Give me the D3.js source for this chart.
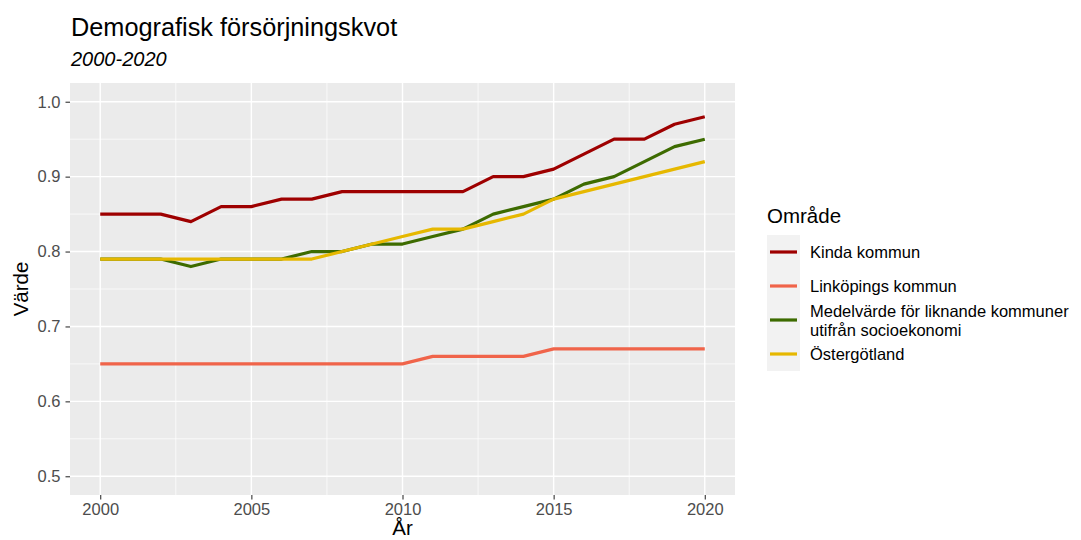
<!DOCTYPE html>
<html>
<head>
<meta charset="utf-8">
<script src="https://cdn.jsdelivr.net/npm/d3@7"></script>
<style>
  body { margin: 0; background: #fff; }
  text { font-family: "Liberation Sans", Arial, sans-serif; }
</style>
</head>
<body>
<div id="chart"></div>
<script>
var years = d3.range(2000, 2021);
var areas = ["Kinda kommun", "Linköpings kommun", "Medelvärde för liknande kommuner\nutifrån socioekonomi", "Östergötland"];
var colors = ["#9e0000", "#f0644a", "#3d6b00", "#e6b800"];
var kinda = [0.85,0.85,0.85,0.84,0.86,0.86,0.87,0.87,0.88,0.88,0.88,0.88,0.88,0.90,0.90,0.91,0.93,0.95,0.95,0.97,0.98];
var linkoping = [0.65,0.65,0.65,0.65,0.65,0.65,0.65,0.65,0.65,0.65,0.65,0.66,0.66,0.66,0.66,0.67,0.67,0.67,0.67,0.67,0.67];
var medel = [0.79,0.79,0.79,0.78,0.79,0.79,0.79,0.80,0.80,0.81,0.81,0.82,0.83,0.85,0.86,0.87,0.89,0.90,0.92,0.94,0.95];
var ostergotland = [0.79,0.79,0.79,0.79,0.79,0.79,0.79,0.79,0.80,0.81,0.82,0.83,0.83,0.84,0.85,0.87,0.88,0.89,0.90,0.91,0.92];
var xTicks = [2000, 2005, 2010, 2015, 2020];
var yTicks = [0.5, 0.6, 0.7, 0.8, 0.9, 1.0];

var series = [kinda, linkoping, medel, ostergotland];

var W = 1081, H = 540,
    panel = { left: 70, right: 735, top: 83, bottom: 495 };

var svg = d3.select("#chart").append("svg")
    .attr("width", W)
    .attr("height", H);

// ggplot style 5% expansion
var x = d3.scaleLinear().domain([1999, 2021]).range([panel.left, panel.right]);
var y = d3.scaleLinear().domain([0.475, 1.025]).range([panel.bottom, panel.top]);

svg.append("rect")
    .attr("x", panel.left).attr("y", panel.top)
    .attr("width", panel.right - panel.left)
    .attr("height", panel.bottom - panel.top)
    .attr("fill", "#ebebeb");

// minor grid
var xMinor = [2002.5, 2007.5, 2012.5, 2017.5];
var yMinor = [0.55, 0.65, 0.75, 0.85, 0.95];
svg.selectAll(".xminor").data(xMinor).enter().append("line")
    .attr("x1", function(d) { return x(d); }).attr("x2", function(d) { return x(d); })
    .attr("y1", panel.top).attr("y2", panel.bottom)
    .attr("stroke", "#fff").attr("stroke-width", 0.7);
svg.selectAll(".yminor").data(yMinor).enter().append("line")
    .attr("y1", function(d) { return y(d); }).attr("y2", function(d) { return y(d); })
    .attr("x1", panel.left).attr("x2", panel.right)
    .attr("stroke", "#fff").attr("stroke-width", 0.7);

// major grid
svg.selectAll(".xmajor").data(xTicks).enter().append("line")
    .attr("x1", function(d) { return x(d); }).attr("x2", function(d) { return x(d); })
    .attr("y1", panel.top).attr("y2", panel.bottom)
    .attr("stroke", "#fff").attr("stroke-width", 1.4);
svg.selectAll(".ymajor").data(yTicks).enter().append("line")
    .attr("y1", function(d) { return y(d); }).attr("y2", function(d) { return y(d); })
    .attr("x1", panel.left).attr("x2", panel.right)
    .attr("stroke", "#fff").attr("stroke-width", 1.4);

// axes
var xAxis = svg.append("g")
    .attr("transform", "translate(0," + panel.bottom + ")")
    .call(d3.axisBottom(x).tickValues(xTicks).tickFormat(d3.format("d")).tickSize(4.5).tickPadding(4));
var yAxis = svg.append("g")
    .attr("transform", "translate(" + panel.left + ",0)")
    .call(d3.axisLeft(y).tickValues(yTicks).tickFormat(d3.format(".1f")).tickSize(4.5).tickPadding(5));
[xAxis, yAxis].forEach(function(a) {
  a.select(".domain").remove();
  a.selectAll(".tick line").attr("stroke", "#333").attr("stroke-width", 1.1);
  a.selectAll(".tick text").attr("fill", "#4d4d4d").style("font-size", "16.5px")
    .style("font-family", "Liberation Sans, Arial, sans-serif");
});

// lines
var line = d3.line()
    .x(function(d, i) { return x(years[i]); })
    .y(function(d) { return y(d); });

svg.selectAll(".serie").data(series).enter().append("path")
    .attr("d", function(d) { return line(d); })
    .attr("fill", "none")
    .attr("stroke", function(d, i) { return colors[i]; })
    .attr("stroke-width", 3.2)
    .attr("stroke-linejoin", "round");

// titles
svg.append("text").text("Demografisk försörjningskvot")
    .attr("x", 71).attr("y", 35.5).style("font-size", "25.3px").attr("fill", "#000");
svg.append("text").text("2000-2020")
    .attr("x", 71).attr("y", 66).style("font-size", "20px").style("font-style", "italic").attr("fill", "#000");
svg.append("text").text("År")
    .attr("x", (panel.left + panel.right) / 2).attr("y", 535)
    .attr("text-anchor", "middle").style("font-size", "20.5px");
svg.append("text").text("Värde")
    .attr("transform", "translate(28," + ((panel.top + panel.bottom) / 2) + ") rotate(-90)")
    .attr("text-anchor", "middle").style("font-size", "20.5px");

// legend
var lg = svg.append("g").attr("transform", "translate(767,0)");
lg.append("text").text("Område").attr("x", 0).attr("y", 222.5).style("font-size", "20.5px");
lg.append("rect").attr("x", 0).attr("y", 235).attr("width", 33).attr("height", 136).attr("fill", "#f2f2f2");
var keyY = [252, 286, 320, 354];
var items = lg.selectAll(".item").data(areas).enter().append("g")
    .attr("transform", function(d, i) { return "translate(0," + keyY[i] + ")"; });
items.append("line")
    .attr("x1", 3).attr("x2", 30).attr("y1", 0).attr("y2", 0)
    .attr("stroke", function(d, i) { return colors[i]; })
    .attr("stroke-width", 3.2);
items.each(function(d) {
  var parts = d.split("\n");
  var t = d3.select(this).append("text").attr("x", 43).style("font-size", "16.5px").attr("fill", "#000");
  var y0 = parts.length > 1 ? -3 : 6;
  parts.forEach(function(p, j) {
    t.append("tspan").attr("x", 43).attr("y", y0 + j * 19).text(p);
  });
});
</script>
</body>
</html>
